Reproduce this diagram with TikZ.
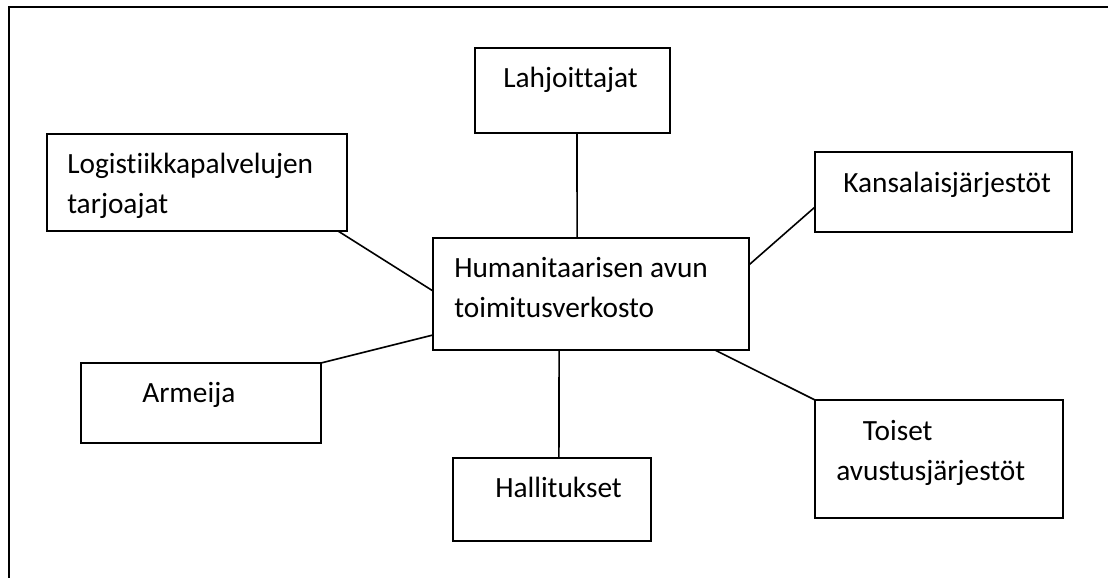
\documentclass[tikz,border=0pt]{standalone}
\usepackage{fontspec}
\setmainfont{Carlito}[Ligatures=CommonOff]
\usepackage{tikz}
\usetikzlibrary{calc, fit}

\begin{document}
\begin{tikzpicture}[x=0.75pt, y=-0.75pt,
    box/.style={draw, line width=1.3pt, inner sep=0pt, outer sep=0pt},
    lbl/.style={anchor=base west, inner sep=0pt, align=left,
                font=\fontsize{22}{30}\selectfont},
    link/.style={line width=1.2pt}]
  \useasboundingbox (0,0) rectangle (1108,578);
  \draw[line width=2pt] (9,578) -- (9,7) -- (1108,7);

  % boxes
  \node[box, fit={(433,238) (749,350)}] (hub) {};
  \node[box, fit={(475,48) (670,133)}] (donors) {};
  \node[box, fit={(47,134) (347,231)}] (logist) {};
  \node[box, fit={(815,152) (1072,232)}] (ngos) {};
  \node[box, fit={(81,363) (321,443)}] (army) {};
  \node[box, fit={(453,458) (651,541)}] (govts) {};
  \node[box, fit={(815,400) (1063,518)}] (aid) {};

  % texts (base = last line)
  \node[lbl] at ($(hub.north west)+(21,79)$) {Humanitaarisen avun\\toimitusverkosto};
  \node[lbl] at ($(donors.north west)+(28,39)$) {Lahjoittajat};
  \node[lbl] at ($(logist.north west)+(20,79)$) {Logistiikkapalvelujen\\tarjoajat};
  \node[lbl] at ($(ngos.north west)+(28,40)$) {Kansalaisjärjestöt};
  \node[lbl] at ($(army.north west)+(61,39)$) {Armeija};
  \node[lbl] at ($(govts.north west)+(42,39)$) {Hallitukset};
  \node[lbl] at ($(aid.north west)+(21,80)$) {\hspace{20pt}Toiset\\avustusjärjestöt};

  % links
  \draw[link] ($(donors.south west)!0.523!(donors.south east)$)
    -- ($(hub.north west)!0.456!(hub.north east)$);
  \draw[link] ($(logist.south west)!0.97!(logist.south east)$)
    -- ($(hub.north west)!0.473!(hub.south west)$);
  \draw[link] ($(ngos.north west)!0.6875!(ngos.south west)$)
    -- ($(hub.north east)!0.24!(hub.south east)$);
  \draw[link] (army.north east)
    -- ($(hub.north west)!0.866!(hub.south west)$);
  \draw[link] ($(govts.north west)!0.535!(govts.north east)$)
    -- ($(hub.south west)!0.399!(hub.south east)$);
  \draw[link] (aid.north west)
    -- ($(hub.south west)!0.892!(hub.south east)$);
\end{tikzpicture}
\end{document}
